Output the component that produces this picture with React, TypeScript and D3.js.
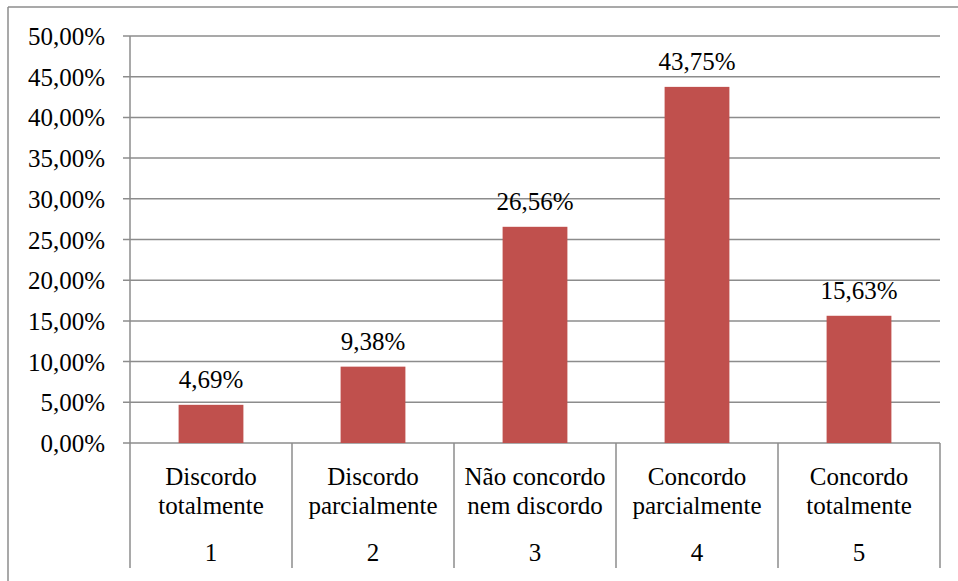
import React from "react";
import * as d3 from "d3";

const categories: string[][] = [
  ["Discordo", "totalmente"],
  ["Discordo", "parcialmente"],
  ["Não concordo", "nem discordo"],
  ["Concordo", "parcialmente"],
  ["Concordo", "totalmente"],
];
const codes: string[] = ["1", "2", "3", "4", "5"];
const values: number[] = [4.69, 9.38, 26.56, 43.75, 15.63];
const yTicks: number[] = [0, 5, 10, 15, 20, 25, 30, 35, 40, 45, 50];

const W = 958;
const H = 581;
const plot = { left: 130, right: 940, top: 36, bottom: 443 };
const FONT = "Liberation Serif";
const GRID = "#8c8c8c";
const BAR = "#C0504D";
// glyphs are laid out at 28px and scaled down to an effective 25px
const BASE_SIZE = 28;
const K = 25 / BASE_SIZE;

const fmt = (v: number) => v.toFixed(2).replace(".", ",") + "%";

function Label(props: {
  x: number;
  y: number;
  anchor: "start" | "middle" | "end";
  children: React.ReactNode;
}) {
  return (
    <text
      transform={`translate(${props.x},${props.y}) scale(${K})`}
      x={0}
      y={0}
      textAnchor={props.anchor}
      style={{ fontFamily: FONT, fontSize: BASE_SIZE + "px" }}
      fill="#000"
    >
      {props.children}
    </text>
  );
}

export default function App() {
  const x = d3
    .scaleBand<number>()
    .domain(d3.range(values.length))
    .range([plot.left, plot.right])
    .paddingInner(0.6)
    .paddingOuter(0.3);
  const band = d3
    .scaleBand<number>()
    .domain(d3.range(values.length))
    .range([plot.left, plot.right]);
  const y = d3.scaleLinear().domain([0, 50]).range([plot.bottom, plot.top]);
  const axisBottom = 568;

  return (
    <svg
      width={W}
      height={H}
      style={{ position: "absolute", left: 0, top: 0, fontFamily: FONT }}
    >
      {/* outer frame */}
      <line x1={8} x2={8} y1={7} y2={H} stroke={GRID} strokeWidth={1.5} />
      <line x1={8} x2={W} y1={7} y2={7} stroke={GRID} strokeWidth={1.5} />

      {/* gridlines and y ticks */}
      {yTicks.map((t) => (
        <g key={t}>
          <line
            x1={plot.left - 7}
            x2={plot.right}
            y1={y(t)}
            y2={y(t)}
            stroke={GRID}
            strokeWidth={1.5}
          />
          <Label x={105} y={y(t) + 9} anchor="end">
            {fmt(t)}
          </Label>
        </g>
      ))}

      {/* y axis line */}
      <line
        x1={plot.left}
        x2={plot.left}
        y1={plot.top}
        y2={axisBottom}
        stroke={GRID}
        strokeWidth={1.5}
      />

      {/* category dividers */}
      {d3.range(values.length).map((i) => (
        <line
          key={"d" + i}
          x1={(band(i) as number) + band.bandwidth()}
          x2={(band(i) as number) + band.bandwidth()}
          y1={plot.bottom}
          y2={axisBottom}
          stroke={GRID}
          strokeWidth={1.5}
        />
      ))}

      {/* bars */}
      {values.map((v, i) => (
        <rect
          key={"b" + i}
          x={x(i)}
          y={y(v)}
          width={x.bandwidth()}
          height={y(0) - y(v)}
          fill={BAR}
        />
      ))}

      {/* value labels */}
      {values.map((v, i) => (
        <Label
          key={"v" + i}
          x={(x(i) as number) + x.bandwidth() / 2}
          y={y(v) - 17}
          anchor="middle"
        >
          {fmt(v)}
        </Label>
      ))}

      {/* category labels */}
      {categories.map((lines, i) => {
        const cx = (band(i) as number) + band.bandwidth() / 2;
        return (
          <g key={"c" + i}>
            {lines.map((ln, j) => (
              <Label key={j} x={cx} y={485 + j * 29} anchor="middle">
                {ln}
              </Label>
            ))}
            <Label x={cx} y={561} anchor="middle">
              {codes[i]}
            </Label>
          </g>
        );
      })}
    </svg>
  );
}
